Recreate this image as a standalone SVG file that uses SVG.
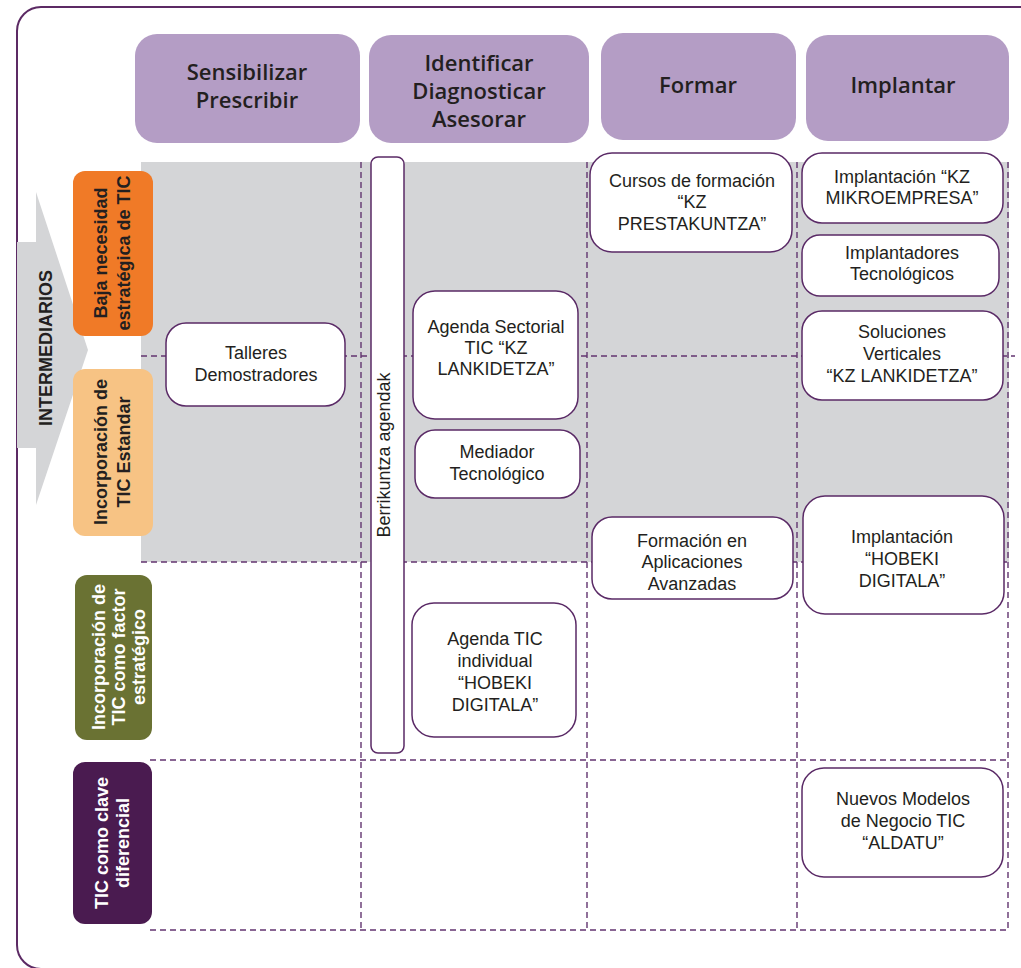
<svg xmlns="http://www.w3.org/2000/svg" width="1021" height="968" viewBox="0 0 1021 968">
<style>
.hdr{fill:#b49dc5}
.ht{font-family:"Open Sans","Liberation Sans",sans-serif;font-size:22px;font-weight:600;fill:#231f20;text-anchor:middle}
.box{fill:#fff;stroke:#5a2a66;stroke-width:1.5}
.bt{font-family:"Liberation Sans",Arial,sans-serif;font-size:18px;fill:#231f20;text-anchor:middle}
.rl{font-family:"Liberation Sans",Arial,sans-serif;font-size:18px;font-weight:bold;text-anchor:middle}
.dash{stroke:#633570;stroke-width:1.4;stroke-dasharray:6 4;fill:none}
</style>
<rect x="17" y="7" width="1040" height="962" rx="24" fill="#fff" stroke="#5c2a64" stroke-width="2"/>
<rect x="141" y="162" width="868" height="400" fill="#d4d5d7"/>
<polygon points="17,242 36,242 36,192 88,350 36,505 36,448 17,448" fill="#d4d5d7"/>
<g id="connectors">
<line class="dash" x1="141" y1="356" x2="1015" y2="356"/>
<line class="dash" x1="141" y1="562" x2="1009" y2="562"/>
<line class="dash" x1="150" y1="760" x2="1009" y2="760"/>
<line class="dash" x1="150" y1="930" x2="1009" y2="930"/>
<line class="dash" x1="361" y1="162" x2="361" y2="930"/>
<line class="dash" x1="587" y1="162" x2="587" y2="930"/>
<line class="dash" x1="797" y1="162" x2="797" y2="930"/>
<line class="dash" x1="1008" y1="162" x2="1008" y2="930"/>
</g>
<g id="intermediarios">
<text class="rl" fill="#231f20" transform="translate(52,348) rotate(-90)">INTERMEDIARIOS</text>
</g>
<g id="h1"><rect class="hdr" x="135" y="34" width="225" height="109" rx="22"/>
<text class="ht" x="247" y="80">Sensibilizar</text><text class="ht" x="247" y="108">Prescribir</text></g>
<g id="h2"><rect class="hdr" x="369" y="35" width="220" height="108" rx="22"/>
<text class="ht" x="479" y="71">Identificar</text><text class="ht" x="479" y="99">Diagnosticar</text><text class="ht" x="479" y="127">Asesorar</text></g>
<g id="h3"><rect class="hdr" x="601" y="33" width="195" height="107" rx="22"/>
<text class="ht" x="698" y="93">Formar</text></g>
<g id="h4"><rect class="hdr" x="806" y="35" width="203" height="106" rx="22"/>
<text class="ht" x="903" y="93">Implantar</text></g>
<g id="r1"><rect x="73" y="171" width="80" height="165" rx="12" fill="#f07a27"/>
<g transform="translate(113,253) rotate(-90)" class="rl" fill="#231f20"><text x="0" y="-6">Baja necesidad</text><text x="0" y="17">estratégica de TIC</text></g></g>
<g id="r2"><rect x="73" y="369" width="80" height="167" rx="12" fill="#f7c384"/>
<g transform="translate(113,452) rotate(-90)" class="rl" fill="#231f20"><text x="0" y="-6">Incorporación de</text><text x="0" y="17">TIC Estandar</text></g></g>
<g id="r3"><rect x="75" y="575" width="77" height="165" rx="12" fill="#6a7233"/>
<g transform="translate(113,657) rotate(-90)" class="rl" fill="#fff"><text x="0" y="-8">Incorporación de</text><text x="0" y="12">TIC como factor</text><text x="0" y="32">estratégico</text></g></g>
<g id="r4"><rect x="73" y="762" width="79" height="162" rx="12" fill="#4a1b50"/>
<g transform="translate(113,843) rotate(-90)" class="rl" fill="#fff"><text x="0" y="-5">TIC como clave</text><text x="0" y="16">diferencial</text></g></g>
<g id="berrikuntza"><rect class="box" x="371" y="157" width="33" height="596" rx="7"/>
<text class="bt" transform="translate(390,455) rotate(-90)">Berrikuntza agendak</text></g>
<g id="talleres"><rect class="box" x="166" y="323" width="179" height="83" rx="20"/>
<text class="bt" x="256" y="359">Talleres</text><text class="bt" x="256" y="381">Demostradores</text></g>
<g id="agenda-sectorial"><rect class="box" x="413" y="291" width="165" height="128" rx="22"/>
<text class="bt" x="496" y="333">Agenda Sectorial</text><text class="bt" x="496" y="354">TIC “KZ</text><text class="bt" x="496" y="375">LANKIDETZA”</text></g>
<g id="mediador"><rect class="box" x="415" y="430" width="165" height="68" rx="20"/>
<text class="bt" x="497" y="458">Mediador</text><text class="bt" x="497" y="480">Tecnológico</text></g>
<g id="agenda-individual"><rect class="box" x="412" y="603" width="164" height="134" rx="22"/>
<text class="bt" x="495" y="645">Agenda TIC</text><text class="bt" x="495" y="667">individual</text><text class="bt" x="495" y="689">“HOBEKI</text><text class="bt" x="495" y="711">DIGITALA”</text></g>
<g id="cursos"><rect class="box" x="590" y="153" width="202" height="99" rx="22"/>
<text class="bt" x="692" y="187">Cursos de formación</text><text class="bt" x="692" y="208">“KZ</text><text class="bt" x="692" y="230">PRESTAKUNTZA”</text></g>
<g id="kz-mikro"><rect class="box" x="802" y="153" width="201" height="70" rx="20"/>
<text class="bt" x="902" y="183">Implantación “KZ</text><text class="bt" x="902" y="204">MIKROEMPRESA”</text></g>
<g id="implantadores"><rect class="box" x="802" y="235" width="197" height="61" rx="18"/>
<text class="bt" x="902" y="259">Implantadores</text><text class="bt" x="902" y="280">Tecnológicos</text></g>
<g id="soluciones"><rect class="box" x="802" y="311" width="201" height="89" rx="20"/>
<text class="bt" x="902" y="338">Soluciones</text><text class="bt" x="902" y="360">Verticales</text><text class="bt" x="902" y="382">“KZ LANKIDETZA”</text></g>
<g id="formacion-avanzadas"><rect class="box" x="592" y="517" width="201" height="82" rx="20"/>
<text class="bt" x="692" y="547">Formación en</text><text class="bt" x="692" y="568">Aplicaciones</text><text class="bt" x="692" y="590">Avanzadas</text></g>
<g id="implantacion-hobeki"><rect class="box" x="803" y="496" width="201" height="118" rx="22" stroke-width="2.5" stroke="#4a1b50"/>
<text class="bt" x="902" y="543">Implantación</text><text class="bt" x="902" y="565">“HOBEKI</text><text class="bt" x="902" y="587">DIGITALA”</text></g>
<g id="aldatu"><rect class="box" x="802" y="768" width="201" height="109" rx="22"/>
<text class="bt" x="903" y="805">Nuevos Modelos</text><text class="bt" x="903" y="827">de Negocio TIC</text><text class="bt" x="903" y="849">“ALDATU”</text></g>
</svg>
